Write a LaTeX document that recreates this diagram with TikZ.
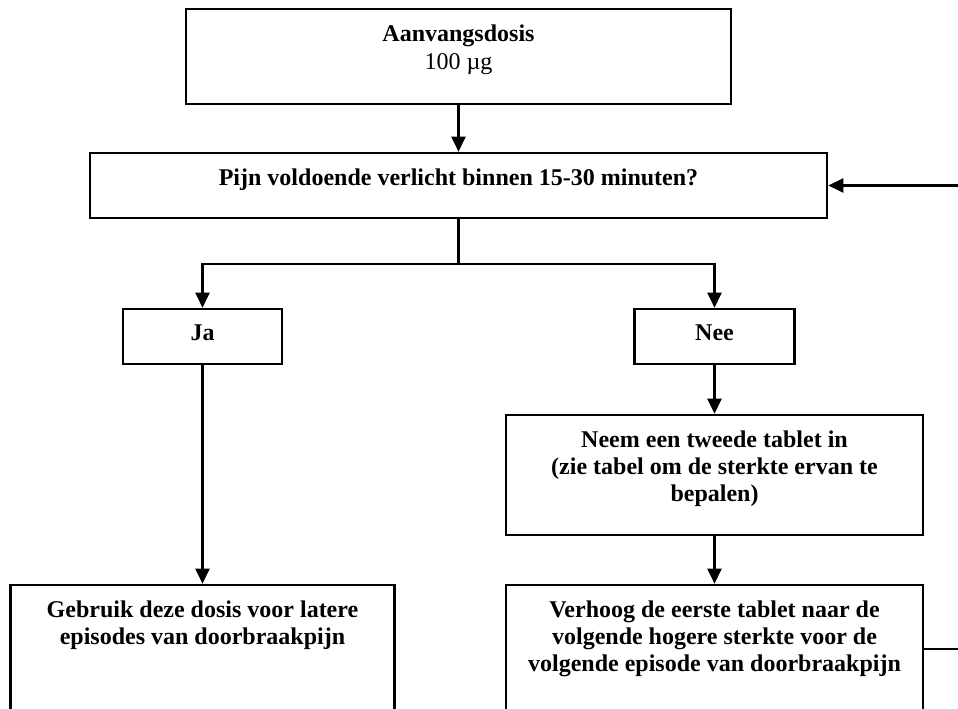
\documentclass[tikz,border=0pt]{standalone}
\usepackage{fontspec}
\setmainfont{Liberation Serif}
\usetikzlibrary{arrows.meta}
\usetikzlibrary{positioning}

\tikzset{
  box/.style={draw, line width=2.6pt, inner sep=0},
  txt/.style={anchor=north, inner sep=0, yshift=-17pt, align=center, font=\fontsize{24}{27}\selectfont\bfseries},
  pijl/.style={-{Triangle[length=15pt,width=14pt]}, line width=2.2pt},
}

\begin{document}
\begin{tikzpicture}[x=1pt,y=-1pt]
    \useasboundingbox (0,0) rectangle (958,709);
    \fill[white] (0,0) rectangle (958,709);
    \clip (0,0) rectangle (958,709);

    \node(start)[box,minimum width=545pt,minimum height=95pt,label={[txt]north:{Aanvangsdosis\\[1pt]\mdseries 100 µg}}] at (458.5,56.5) {};
    \node(pijn)[box,minimum width=737pt,minimum height=65pt,label={[txt]north:{Pijn voldoende verlicht binnen 15-30 minuten?}}] at (458.5,185.5) {};
    \node(ja)[box,minimum width=159pt,minimum height=55pt,label={[txt]north:{Ja}}] at (202.5,336.5) {};
    \node(nee)[box,minimum width=160pt,minimum height=55pt,label={[txt]north:{Nee}}] at (714.5,336.5) {};
    \node(neem)[box,minimum width=417pt,minimum height=120pt,label={[txt]north:{Neem een tweede tablet in\\(zie tabel om de sterkte ervan te\\bepalen)}}] at (714.5,475) {};
    \node(gebruik)[box,minimum width=384pt,minimum height=128pt,label={[txt]north:{Gebruik deze dosis voor latere\\episodes van doorbraakpijn}}] at (202.5,649) {};
    \node(verhoog)[box,minimum width=417pt,minimum height=128pt,label={[txt]north:{Verhoog de eerste tablet naar de\\volgende hogere sterkte voor de\\volgende episode van doorbraakpijn}}] at (714.5,649) {};

    \draw[pijl] (start.south) -- (pijn.north);
    \draw[line width=2.2pt] (pijn.south) -- ++(0,45) coordinate(split);
    \draw[pijl] (split) -| (ja.north);
    \draw[pijl] (split) -| (nee.north);
    \draw[pijl] (ja.south) -- (gebruik.north);
    \draw[pijl] (nee.south) -- (neem.north);
    \draw[pijl] (neem.south) -- (verhoog.north);
    % terug naar de vraag
    \draw[pijl] (verhoog.east) -- ++(50,0) |- (pijn.east);
\end{tikzpicture}
\end{document}
